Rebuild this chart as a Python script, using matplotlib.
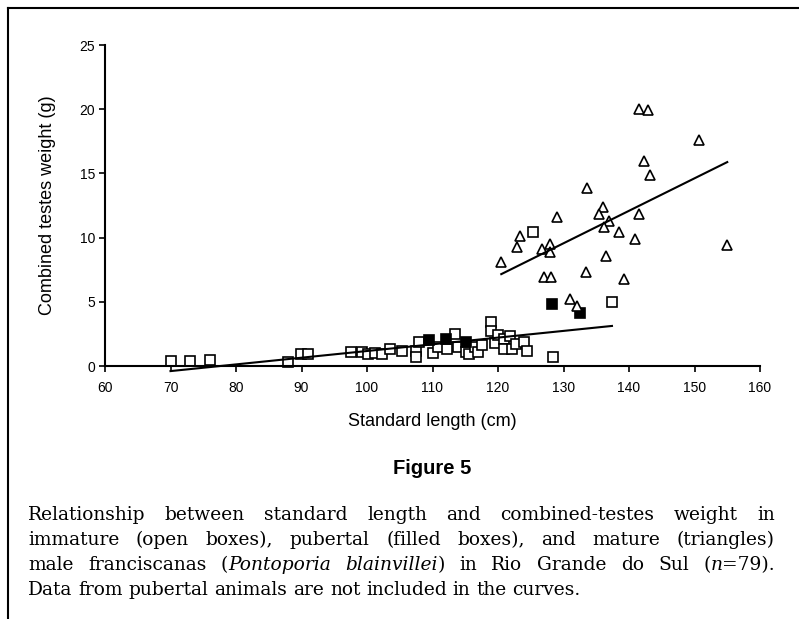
import numpy as np
import matplotlib
matplotlib.use("Agg")
import matplotlib.pyplot as plt
from matplotlib.lines import Line2D

# Immature (open boxes)
imm_len = [70.0, 73.0, 76.0, 88.0, 89.9, 91.0, 97.5, 99.3, 100.1, 101.2, 102.3, 103.5,
           105.3, 107.5, 107.5, 108.0, 110.0, 110.9, 112.2, 113.4, 113.9, 115.1, 115.5,
           116.5, 117.0, 117.5, 118.9, 118.9, 119.5, 120.0, 120.9, 120.9, 121.9, 122.1,
           122.8, 123.9, 124.5, 125.3, 128.4, 137.4]
imm_wt = [0.4, 0.4, 0.5, 0.3, 0.9, 0.9, 1.1, 1.1, 0.95, 1.0, 0.9, 1.3,
          1.15, 1.15, 0.7, 1.9, 1.05, 1.5, 1.3, 2.5, 1.5, 1.1, 0.9,
          1.5, 1.1, 1.6, 3.4, 2.75, 1.8, 2.4, 2.1, 1.3, 2.3, 1.3,
          1.75, 1.9, 1.15, 10.4, 0.7, 5.0]

# Pubertal (filled boxes)
pub_len = [109.5, 112.0, 115.1, 128.2, 132.5]
pub_wt = [2.0, 2.1, 1.9, 4.8, 4.1]

# Mature (triangles)
mat_len = [141.5, 142.9, 150.7, 142.3, 143.2, 133.6, 136.0, 135.4, 137.0, 136.2, 141.5,
           138.5, 140.9, 129.0, 136.5, 155.0, 123.4, 122.9, 126.7, 127.9, 127.9, 120.5,
           133.4, 127.0, 128.1, 139.2, 131.0, 132.1]
mat_wt = [20.0, 19.9, 17.6, 16.0, 14.9, 13.9, 12.4, 11.8, 11.3, 10.8, 11.8,
          10.4, 9.9, 11.6, 8.6, 9.4, 10.1, 9.3, 9.1, 9.5, 8.9, 8.1,
          7.3, 6.9, 6.9, 6.8, 5.2, 4.7]

x_ticks = list(range(60, 161, 10))
y_ticks = list(range(0, 26, 5))

# caption: lines of words, each word a list of (text, italic)
caption = [
    [[("Relationship", 0)], [("between", 0)], [("standard", 0)], [("length", 0)], [("and", 0)],
     [("combined-testes", 0)], [("weight", 0)], [("in", 0)]],
    [[("immature", 0)], [("(open", 0)], [("boxes),", 0)], [("pubertal", 0)], [("(filled", 0)],
     [("boxes),", 0)], [("and", 0)], [("mature", 0)], [("(triangles)", 0)]],
    [[("male", 0)], [("franciscanas", 0)], [("(", 0), ("Pontoporia", 1)], [("blainvillei", 1), (")", 0)],
     [("in", 0)], [("Rio", 0)], [("Grande", 0)], [("do", 0)], [("Sul", 0)], [("(", 0), ("n", 1), ("=79).", 0)]],
    [[("Data", 0)], [("from", 0)], [("pubertal", 0)], [("animals", 0)], [("are", 0)], [("not", 0)],
     [("included", 0)], [("in", 0)], [("the", 0)], [("curves.", 0)]],
]

fig = plt.figure(figsize=(7.99, 6.19), dpi=100)
W, H = 799, 619
ax = fig.add_axes([105 / W, 1 - 366 / H, (760 - 105) / W, (366 - 45) / H])

mk = dict(linestyle="none", markeredgecolor="black", markeredgewidth=1.2, clip_on=False)
ax.plot(imm_len, imm_wt, marker="s", markersize=7.5, markerfacecolor="white", **mk)
ax.plot(pub_len, pub_wt, marker="s", markersize=7.5, markerfacecolor="black", **mk)
ax.plot(mat_len, mat_wt, marker="^", markersize=7.5, markerfacecolor="white", **mk)

# Regression curves (pubertal excluded)
ci = np.polyfit(imm_len, imm_wt, 1)
xi = np.array([min(imm_len), max(imm_len)])
ax.plot(xi, np.polyval(ci, xi), color="black", lw=1.5, clip_on=False)
cm = np.polyfit(mat_len, mat_wt, 1)
xm = np.array([min(mat_len), max(mat_len)])
ax.plot(xm, np.polyval(cm, xm), color="black", lw=1.5, clip_on=False)

ax.set_xlim(60, 160)
ax.set_ylim(0, 25)
ax.set_xticks(x_ticks)
ax.set_yticks(y_ticks)
for s in ["top", "right"]:
    ax.spines[s].set_visible(False)
for s in ["left", "bottom"]:
    ax.spines[s].set_linewidth(1.5)
tickfont = ["Liberation Sans Narrow", "Liberation Sans"]
ax.tick_params(direction="out", length=4, width=1.2, labelsize=10, pad=3)
ax.tick_params(axis="x", pad=7)
for lab in ax.get_xticklabels() + ax.get_yticklabels():
    lab.set_family(tickfont)
ax.set_xlabel("Standard length (cm)", family="Liberation Sans", fontsize=13, labelpad=13)
ax.set_ylabel("Combined testes weight (g)", family="Liberation Sans", fontsize=13, labelpad=17)

fig.text(432 / W, 1 - 468 / H, "Figure 5", ha="center", va="center",
         family="Liberation Sans", fontweight="bold", fontsize=14.5)

# justified caption
cap_font = "DejaVu Serif"
cap_fs = 13.4
x0, x1 = 28, 775
ys = [520, 545, 570, 595]
renderer = fig.canvas.get_renderer()
for li, (words, yb) in enumerate(zip(caption, ys)):
    arts = []
    wwidths = []
    for w in words:
        segs = []
        tot = 0
        for s, it in w:
            t = fig.text(0, 1 - yb / H, s, ha="left", va="baseline", family=cap_font,
                         style="italic" if it else "normal", fontsize=cap_fs)
            wd = t.get_window_extent(renderer).width
            segs.append((t, wd))
            tot += wd
        arts.append(segs)
        wwidths.append(tot)
    if li < len(caption) - 1:
        gap = (x1 - x0 - sum(wwidths)) / (len(words) - 1)
    else:
        sp = fig.text(0, 0, "a a", family=cap_font, fontsize=cap_fs)
        sa = fig.text(0, 0, "aa", family=cap_font, fontsize=cap_fs)
        gap = sp.get_window_extent(renderer).width - sa.get_window_extent(renderer).width
        sp.remove(); sa.remove()
    x = x0
    for segs, tw in zip(arts, wwidths):
        for t, wd in segs:
            t.set_x(x / W)
            x += wd
        x += gap

fig.add_artist(Line2D([8 / W, 1], [1 - 8 / H, 1 - 8 / H], color="black", lw=1.5,
                      transform=fig.transFigure))
fig.add_artist(Line2D([8 / W, 8 / W], [0, 1 - 8 / H], color="black", lw=1.5,
                      transform=fig.transFigure))

fig.savefig("out.png", dpi=100)
